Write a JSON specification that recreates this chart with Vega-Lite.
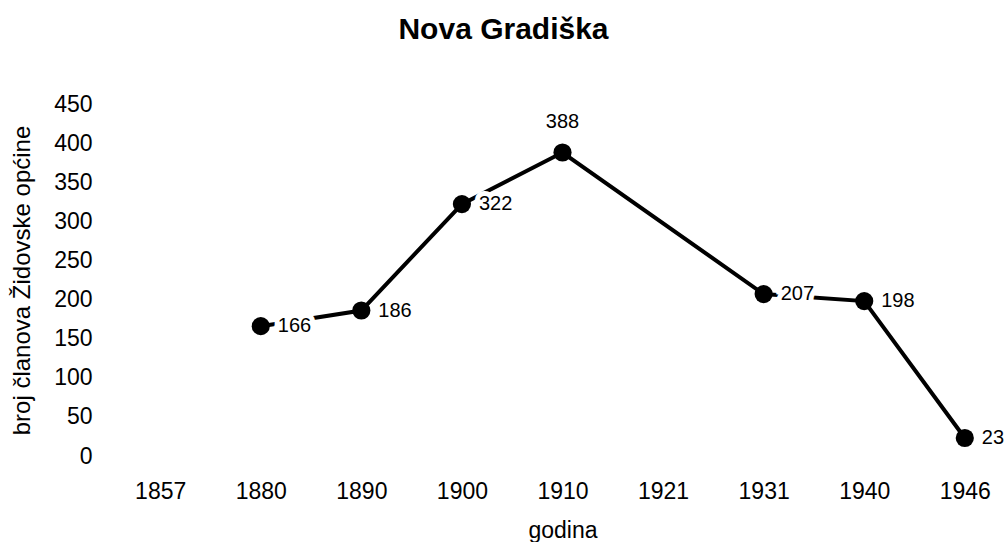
{
  "$schema": "https://vega.github.io/schema/vega-lite/v6.json",
  "width": 875,
  "height": 352,
  "autosize": {"type": "none"},
  "padding": {"left": 125, "top": 104, "right": 4, "bottom": 86},
  "background": "white",
  "title": {
    "text": "Nova Gradiška",
    "font": "Liberation Sans",
    "fontSize": 30,
    "fontWeight": "bold",
    "color": "black",
    "anchor": "middle",
    "baseline": "alphabetic",
    "dx": -59,
    "offset": 24
  },
  "data": {
    "values": [
      {"godina": "1880", "broj": 166},
      {"godina": "1890", "broj": 186},
      {"godina": "1900", "broj": 322},
      {"godina": "1910", "broj": 388},
      {"godina": "1931", "broj": 207},
      {"godina": "1940", "broj": 198},
      {"godina": "1946", "broj": 23}
    ]
  },
  "encoding": {
    "x": {
      "field": "godina",
      "type": "ordinal",
      "scale": {"type": "point", "domain": ["1857", "1880", "1890", "1900", "1910", "1921", "1931", "1940", "1946"], "padding": 0.35},
      "axis": {"title": "godina", "labelAngle": 0, "labelPadding": 24, "titlePadding": 16}
    },
    "y": {
      "field": "broj",
      "type": "quantitative",
      "scale": {"domain": [0, 450], "nice": false, "zero": true},
      "axis": {"title": "broj članova Židovske općine", "values": [0, 50, 100, 150, 200, 250, 300, 350, 400, 450], "labelPadding": 33, "titlePadding": 19, "titleFontSize": 24}
    }
  },
  "layer": [
    {"mark": {"type": "line", "color": "black", "strokeWidth": 4}},
    {
      "transform": [{"filter": "datum.godina != '1910'"}],
      "mark": {"type": "text", "align": "left", "baseline": "middle", "dx": 17, "font": "Liberation Sans", "fontSize": 20, "stroke": "white", "strokeWidth": 10, "fill": "white", "strokeJoin": "miter"},
      "encoding": {"text": {"field": "broj", "type": "quantitative"}}
    },
    {
      "transform": [{"filter": "datum.godina != '1910'"}],
      "mark": {"type": "text", "align": "left", "baseline": "middle", "dx": 17, "font": "Liberation Sans", "fontSize": 20, "fill": "black"},
      "encoding": {"text": {"field": "broj", "type": "quantitative"}}
    },
    {
      "transform": [{"filter": "datum.godina == '1910'"}],
      "mark": {"type": "text", "align": "center", "baseline": "middle", "dy": -30, "font": "Liberation Sans", "fontSize": 20, "fill": "black"},
      "encoding": {"text": {"field": "broj", "type": "quantitative"}}
    },
    {"mark": {"type": "point", "filled": true, "shape": "circle", "size": 330, "color": "black", "opacity": 1}}
  ],
  "config": {
    "view": {"stroke": null},
    "axis": {
      "domain": false,
      "ticks": false,
      "grid": false,
      "labelFont": "Liberation Sans",
      "labelFontSize": 23,
      "labelColor": "black",
      "titleFont": "Liberation Sans",
      "titleFontSize": 23,
      "titleFontWeight": "normal",
      "titleColor": "black"
    }
  }
}
